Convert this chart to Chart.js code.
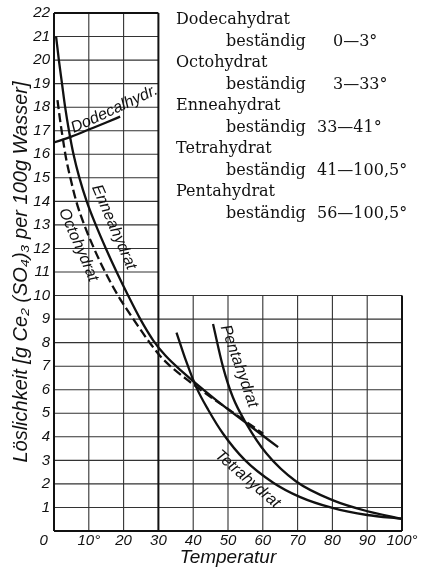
<!DOCTYPE html>
<html>
<head>
<meta charset="utf-8">
<script src="https://cdn.jsdelivr.net/npm/chart.js@4/dist/chart.umd.min.js"></script>
<style>
  body { margin: 0; background: #fff; }
  canvas { display: block; }
</style>
</head>
<body>
<canvas id="chart" width="428" height="569"></canvas>
<script>
// Löslichkeit von Ce2(SO4)3 in g per 100 g Wasser, gegen Temperatur (°C)
var dodecaT = [0, 5, 10, 15, 19];
var dodecaS = [16.5, 16.75, 17.05, 17.35, 17.6];

var octoT = [1.0, 1.7, 2.5, 3.5, 4.7, 6.4, 8.7, 11.5, 14.7, 18.4, 22.8, 27.5, 31, 39.9, 51.4, 60.1];
var octoS = [18.3, 17.5, 16.7, 15.8, 15, 14, 13, 12, 11, 10, 9, 8, 7.35, 6.24, 5.04, 4.13];

var enneaT = [0.6, 1.4, 2.3, 3.2, 4.3, 5.6, 7.3, 9.4, 12, 14.9, 18, 21.3, 24.8, 28.5, 32, 37, 46.7, 56.2, 64.4];
var enneaS = [21, 20, 19, 18, 17, 16, 15, 14, 13, 12, 11, 10, 9, 8.1, 7.45, 6.75, 5.55, 4.48, 3.56];

var tetraT = [35.2, 38, 40.9, 44.3, 48.6, 54.8, 63, 70.6, 80, 90, 100];
var tetraS = [8.43, 7.2, 6.1, 5.15, 4.13, 3.02, 2.05, 1.45, 0.98, 0.68, 0.52];

var pentaT = [45.7, 48.6, 51.4, 55.3, 61, 69.6, 80.2, 89.8, 100];
var pentaS = [8.79, 6.95, 5.68, 4.55, 3.3, 2.1, 1.3, 0.85, 0.52];

var xTicks = [0, 10, 20, 30, 40, 50, 60, 70, 80, 90, 100];
var yMax = 22;

var legendLines = [
  ["Dodecahydrat", ""],
  ["beständig", "0—3°"],
  ["Octohydrat", ""],
  ["beständig", "3—33°"],
  ["Enneahydrat", ""],
  ["beständig", "33—41°"],
  ["Tetrahydrat", ""],
  ["beständig", "41—100,5°"],
  ["Pentahydrat", ""],
  ["beständig", "56—100,5°"]
];

function pts(t, s) {
  return t.map(function(v, i) { return {x: v, y: s[i]}; });
}

function series(label, t, s, dash) {
  return {
    label: label,
    data: pts(t, s),
    borderColor: "#111",
    borderWidth: 2.3,
    borderDash: dash || [],
    pointRadius: 0,
    fill: false,
    cubicInterpolationMode: "monotone"
  };
}

// gitter: links bis 22, rechts nur bis 10
var gridPlugin = {
  id: "lgrid",
  beforeDatasetsDraw: function(chart) {
    var ctx = chart.ctx, x = chart.scales.x, y = chart.scales.y;
    function seg(t1, s1, t2, s2) {
      ctx.moveTo(x.getPixelForValue(t1), y.getPixelForValue(s1));
      ctx.lineTo(x.getPixelForValue(t2), y.getPixelForValue(s2));
    }
    ctx.save();
    ctx.strokeStyle = "#333";
    ctx.lineWidth = 1.1;
    ctx.beginPath();
    xTicks.forEach(function(t) {
      if (t === 0 || t === 30 || t === 100) return;
      seg(t, 0, t, t < 30 ? yMax : 10);
    });
    for (var s = 1; s < yMax; s++) {
      seg(0, s, s <= 10 ? 100 : 30, s);
    }
    ctx.stroke();
    ctx.strokeStyle = "#111";
    ctx.lineWidth = 2;
    ctx.beginPath();
    seg(0, 0, 0, yMax);
    seg(0, yMax, 30, yMax);
    seg(30, yMax, 30, 0);
    seg(0, 0, 100, 0);
    seg(100, 0, 100, 10);
    ctx.stroke();
    ctx.restore();
  }
};

var labelPlugin = {
  id: "labels",
  afterDatasetsDraw: function(chart) {
    var ctx = chart.ctx, x = chart.scales.x, y = chart.scales.y;
    ctx.save();
    ctx.fillStyle = "#111";

    // legende oben rechts
    ctx.font = "16px 'DejaVu Serif', serif";
    ctx.textBaseline = "middle";
    ctx.textAlign = "left";
    legendLines.forEach(function(l, i) {
      var ly = 20 + i * 21.5;
      if (l[1] === "") {
        ctx.fillText(l[0], 176, ly);
      } else {
        ctx.fillText(l[0], 226, ly);
        var nx = /^\d\d/.test(l[1]) ? 317 : 333;
        ctx.fillText(l[1], nx, ly);
      }
    });

    // beschriftung an den kurven
    function curveText(txt, t, s, deg, align, base) {
      ctx.save();
      ctx.translate(x.getPixelForValue(t), y.getPixelForValue(s));
      ctx.rotate(deg * Math.PI / 180);
      ctx.textAlign = align;
      ctx.textBaseline = base;
      ctx.fillText(txt, 0, 0);
      ctx.restore();
    }
    ctx.font = "italic 16px 'Liberation Sans', sans-serif";
    curveText("Dodecalhydr.", 5.7, 16.9, -25, "left", "alphabetic");
    curveText("Enneahydrat", 17.2, 12.9, 66.7, "center", "middle");
    curveText("Octohydrat", 7.0, 12.15, 66.5, "center", "middle");
    curveText("Pentahydrat", 53.2, 7.0, 70.6, "center", "middle");
    curveText("Tetrahydrat", 55.6, 2.2, 40.7, "center", "middle");
    ctx.restore();
  }
};

var chart = new Chart(document.getElementById("chart"), {
  type: "line",
  data: {
    datasets: [
      series("Dodecahydrat", dodecaT, dodecaS),
      series("Octohydrat", octoT, octoS, [9, 4]),
      series("Enneahydrat", enneaT, enneaS),
      series("Tetrahydrat", tetraT, tetraS),
      series("Pentahydrat", pentaT, pentaS)
    ]
  },
  options: {
    responsive: false,
    animation: false,
    devicePixelRatio: 1,
    layout: { padding: { top: 12, right: 26, left: 0, bottom: 0 } },
    plugins: {
      legend: { display: false },
      tooltip: { enabled: false }
    },
    scales: {
      x: {
        type: "linear",
        min: 0,
        max: 100,
        afterFit: function(scale) { scale.height = 38; },
        afterBuildTicks: function(scale) {
          scale.ticks = xTicks.map(function(v) { return {value: v}; });
        },
        ticks: {
          padding: 1,
          color: "#111",
          maxRotation: 0,
          font: { family: "'Liberation Sans', sans-serif", size: 15, style: "italic" },
          callback: function(v) {
            if (v === 0) return "0     ";
            return (v === 10 || v === 100) ? v + "°" : "" + v;
          }
        },
        grid: { display: false, drawTicks: false },
        border: { display: false },
        title: {
          display: true,
          text: "Temperatur",
          color: "#111",
          padding: { top: 1, bottom: 0 },
          font: { family: "'Liberation Sans', sans-serif", size: 19, style: "italic" }
        }
      },
      y: {
        min: 0,
        max: yMax,
        afterFit: function(scale) { scale.width = 54; },
        ticks: {
          stepSize: 1,
          padding: 4,
          color: "#111",
          font: { family: "'Liberation Sans', sans-serif", size: 15, style: "italic" },
          callback: function(v) { return v === 0 ? "" : v; }
        },
        grid: { display: false, drawTicks: false },
        border: { display: false },
        title: {
          display: true,
          text: "Löslichkeit [g Ce₂ (SO₄)₃ per 100g Wasser]",
          color: "#111",
          padding: { top: 9, bottom: 0 },
          font: { family: "'Liberation Sans', sans-serif", size: 20, style: "italic" }
        }
      }
    }
  },
  plugins: [gridPlugin, labelPlugin]
});
</script>
</body>
</html>
